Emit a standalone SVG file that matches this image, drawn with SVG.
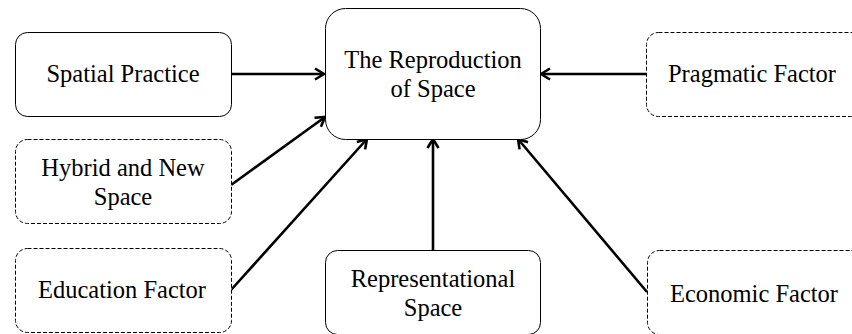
<svg xmlns="http://www.w3.org/2000/svg" width="852" height="334" viewBox="0 0 852 334">
<defs>
<style>
.box{fill:#fff;stroke:#000;stroke-width:1}
.dash{stroke-dasharray:4 2}
.t{font-family:"Liberation Serif","Times New Roman",serif;font-size:24.5px;fill:#000;text-anchor:middle}
.c{fill:none;stroke:#000;stroke-width:2.6}
</style>
<marker id="ah" viewBox="0 0 14 14" refX="12" refY="7" markerWidth="14" markerHeight="14" markerUnits="userSpaceOnUse" orient="auto">
<path d="M3,1.5 L12,7 L3,12.5" fill="none" stroke="#000" stroke-width="2.6"/>
</marker>
</defs>
<rect width="852" height="334" fill="#fff"/>
<g id="connectors">
<line class="c" x1="231" y1="74" x2="324" y2="74" marker-end="url(#ah)"/>
<line class="c" x1="646" y1="74" x2="541" y2="74" marker-end="url(#ah)"/>
<line class="c" x1="231" y1="185" x2="325" y2="117" marker-end="url(#ah)"/>
<line class="c" x1="231" y1="290" x2="367" y2="139" marker-end="url(#ah)"/>
<line class="c" x1="433" y1="250" x2="433" y2="139" marker-end="url(#ah)"/>
<line class="c" x1="647" y1="292" x2="518" y2="139" marker-end="url(#ah)"/>
</g>
<g id="center">
<rect class="box" x="325.5" y="8.5" width="215" height="131" rx="20"/>
<text class="t" x="433" y="68">The Reproduction</text>
<text class="t" x="433" y="97">of Space</text>
</g>
<g id="spatial">
<rect class="box" x="15.5" y="32.5" width="216" height="84" rx="12"/>
<text class="t" x="123" y="82">Spatial Practice</text>
</g>
<g id="pragmatic">
<rect class="box dash" x="646.5" y="32.5" width="216" height="84" rx="12"/>
<text class="t" x="752" y="82">Pragmatic Factor</text>
</g>
<g id="hybrid">
<rect class="box dash" x="15.5" y="139.5" width="216" height="84" rx="12"/>
<text class="t" x="123" y="176">Hybrid and New</text>
<text class="t" x="123" y="205">Space</text>
</g>
<g id="education">
<rect class="box dash" x="15.5" y="248.5" width="216" height="84" rx="12"/>
<text class="t" x="122" y="298">Education Factor</text>
</g>
<g id="representational">
<rect class="box" x="325.5" y="250.5" width="215" height="84" rx="12"/>
<text class="t" x="433" y="287">Representational</text>
<text class="t" x="433" y="316">Space</text>
</g>
<g id="economic">
<rect class="box dash" x="647.5" y="250.5" width="216" height="84" rx="12"/>
<text class="t" x="754" y="302">Economic Factor</text>
</g>
</svg>
